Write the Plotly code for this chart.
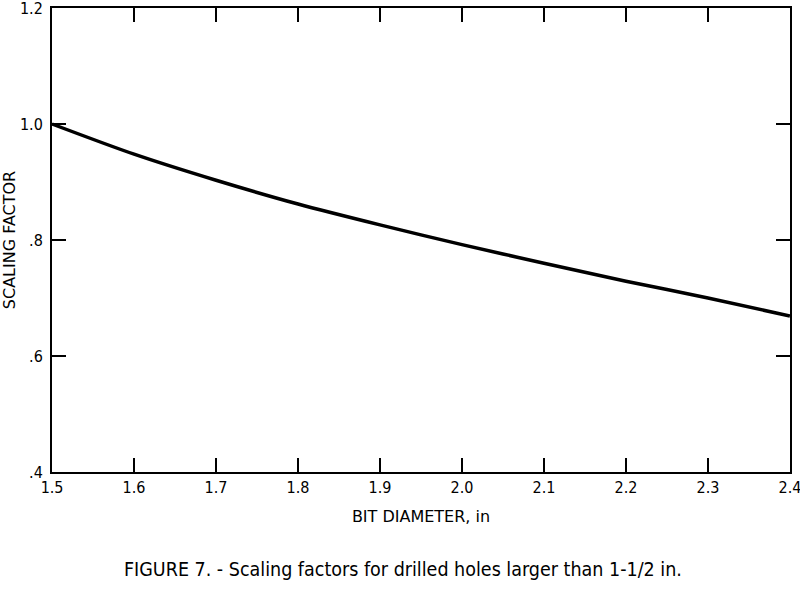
import plotly.graph_objects as go

bit_diameter = [1.5, 1.6, 1.7, 1.8, 1.9, 2.0, 2.1, 2.2, 2.3, 2.4]
scaling_factor = [1.0, 0.948, 0.903, 0.862, 0.826, 0.792, 0.760, 0.729, 0.700, 0.669]

x_ticks = [1.5, 1.6, 1.7, 1.8, 1.9, 2.0, 2.1, 2.2, 2.3, 2.4]
x_tick_labels = ["1.5", "1.6", "1.7", "1.8", "1.9", "2.0", "2.1", "2.2", "2.3", "2.4"]
y_ticks = [0.4, 0.6, 0.8, 1.0, 1.2]
y_tick_labels = [".4", ".6", ".8", "1.0", "1.2"]

caption = "FIGURE 7. - Scaling factors for drilled holes larger than 1-1/2 in."

fig = go.Figure()
fig.add_trace(go.Scatter(
    x=bit_diameter, y=scaling_factor, mode="lines",
    line=dict(color="black", width=3.5, shape="spline", smoothing=0.8),
    showlegend=False, hoverinfo="skip", cliponaxis=False,
))

axis_common = dict(
    showgrid=False, zeroline=False, automargin=False,
    showline=True, linecolor="black", linewidth=2, mirror="ticks",
    ticks="inside", ticklen=14, tickwidth=1.5, tickcolor="black",
    ticklabeloverflow="allow",
    tickfont=dict(family="DejaVu Sans Condensed", size=16, color="black"),
)

fig.update_xaxes(
    range=[1.4999, 2.4001], tickvals=x_ticks, ticktext=x_tick_labels,
    title=dict(text="BIT DIAMETER, in",
               font=dict(family="DejaVu Sans", size=16, color="black")),
    **axis_common,
)
fig.update_yaxes(
    range=[0.3999, 1.2001], tickvals=y_ticks, ticktext=y_tick_labels,
    ticklabelstandoff=4,
    title=dict(text="SCALING FACTOR",
               font=dict(family="DejaVu Sans", size=16, color="black")),
    **axis_common,
)

fig.add_annotation(
    text=caption, xref="paper", yref="paper", x=0.475, y=-0.211,
    xanchor="center", yanchor="middle", showarrow=False,
    font=dict(family="DejaVu Sans Condensed", size=19.5, color="black"),
)

fig.update_layout(
    width=800, height=589,
    margin=dict(l=52, r=10, t=8, b=117),
    paper_bgcolor="white", plot_bgcolor="white",
)

fig.write_html("out.html", config={"displayModeBar": False},
               post_script="document.body.style.margin='0px';")
